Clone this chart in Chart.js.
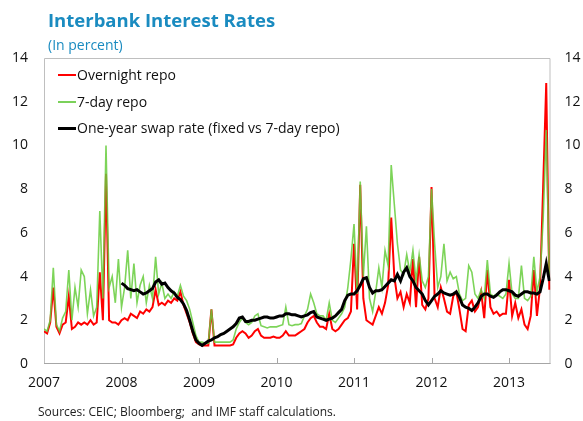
<!DOCTYPE html>
<html>
<head>
<meta charset="utf-8">
<script src="https://cdn.jsdelivr.net/npm/chart.js@4.4.1/dist/chart.umd.min.js"></script>
<style>
  html, body { margin: 0; padding: 0; background: #fff; }
  #wrap { position: relative; width: 583px; height: 421px; overflow: hidden; }
  #c { position: absolute; left: 0; top: 0; }
  .txt { position: absolute; font-family: "Open Sans", sans-serif; white-space: nowrap; }
  #title { left: 48px; top: 10px; font-size: 18.5px; line-height: 19px; font-weight: 700; color: #1A8BC0; }
  #subtitle { left: 48px; top: 38px; font-size: 14px; line-height: 14px; color: #1A8BC0; }
  #source { left: 38px; top: 406px; font-size: 12px; line-height: 12px; color: #222; }
  #legend { position: absolute; left: 58px; top: 64px; font-family: "Open Sans", sans-serif; font-size: 14px; color: #111; }
  .li { height: 26.5px; line-height: 22px; white-space: nowrap; }
  .sw { display: inline-block; width: 18px; vertical-align: middle; margin-right: 1px; position: relative; top: -1px; }
</style>
</head>
<body>
<div id="wrap">
  <canvas id="c" width="583" height="421"></canvas>
  <div id="title" class="txt">Interbank Interest Rates</div>
  <div id="subtitle" class="txt">(In percent)</div>
  <div id="legend"></div>
  <div id="source" class="txt">Sources: CEIC; Bloomberg;&nbsp; and IMF staff calculations.</div>
</div>
<script>
// ---- Data (percent), sampled every 0.04 year starting 2007.00 ----
const startYear = 2007;
const sampleStep = 0.04;

const overnight = [
  1.5, 1.4, 1.9, 3.5, 1.7, 1.4, 1.8, 1.9, 3.1, 1.6,
  1.7, 1.9, 1.8, 1.9, 1.8, 2.0, 1.8, 1.9, 4.2, 2.0,
  8.7, 2.0, 1.9, 1.9, 1.8,
  2.0, 2.1, 2.0, 2.3, 2.2, 2.1, 2.4, 2.3, 2.5, 2.4,
  2.6, 3.4, 2.7, 2.8, 2.7, 2.9, 2.8, 3.0, 2.9, 3.3,
  2.7, 2.3, 1.9, 1.4, 1.0,
  0.9, 0.85, 0.85, 0.85, 2.5, 0.85, 0.85, 0.85, 0.85, 0.85,
  0.85, 0.9, 1.2, 1.4, 1.5, 1.4, 1.2, 1.3, 1.5, 1.6,
  1.3, 1.2, 1.2, 1.2, 1.25,
  1.2, 1.2, 1.3, 1.5, 1.3, 1.3, 1.3, 1.4, 1.5, 1.6,
  1.9, 2.1, 2.2, 1.9, 1.7, 1.7, 1.6, 2.3, 1.6, 1.5,
  1.6, 1.8, 2.0, 2.1, 2.4,
  5.5, 2.5, 8.2, 3.0, 2.0, 1.9, 1.8, 2.2, 2.6, 2.3,
  2.8, 3.6, 6.7, 4.0, 3.0, 3.3, 2.6, 3.2, 2.8, 4.8,
  2.6, 4.9, 2.7, 2.5, 3.0,
  8.1, 3.0, 2.6, 3.5, 3.0, 2.4, 2.3, 3.1, 3.3, 2.5,
  1.6, 1.5, 2.7, 2.9, 2.4, 2.6, 3.3, 2.1, 4.3, 2.6,
  2.3, 2.4, 2.2, 2.3, 2.3,
  3.85, 2.2, 2.8, 2.1, 2.5, 1.8, 1.6, 2.2, 4.3, 2.2,
  3.5, 8.1, 12.85, 3.4
];

const sevenDay = [
  1.6, 1.5, 2.0, 4.4, 1.8, 1.5, 2.1, 2.4, 4.3, 2.0,
  3.5, 2.6, 4.3, 4.0, 2.3, 3.4, 2.2, 2.6, 7.0, 3.0,
  10.0, 3.5, 4.0, 2.8, 4.8,
  2.6, 3.5, 5.2, 3.0, 4.6, 2.8, 3.6, 4.0, 2.8, 3.6,
  3.0, 4.9, 3.2, 3.7, 3.0, 3.2, 3.0, 3.3, 3.1, 3.6,
  3.1, 2.9, 2.5, 1.9, 1.3,
  1.0, 1.0, 0.95, 0.95, 2.5, 1.0, 1.0, 1.0, 1.0, 1.0,
  1.0, 1.1, 1.6, 1.9, 2.1, 1.9, 1.8, 1.9, 2.2, 2.3,
  1.75, 1.7, 1.65, 1.7, 1.7,
  1.7, 1.75, 1.8, 2.6, 1.8, 1.75, 1.8, 1.8, 1.85, 2.2,
  2.5, 3.2, 2.8, 2.3, 2.2, 2.2, 2.0, 2.8, 2.0, 1.9,
  2.1, 2.3, 2.6, 3.5, 4.8,
  6.4, 3.2, 8.35, 4.0, 6.3, 3.0, 2.4, 3.3, 4.4, 3.5,
  5.2, 4.5, 9.1, 7.3, 5.5, 4.3, 4.1, 5.0, 4.2, 5.2,
  3.8, 5.0, 3.8, 3.5, 4.0,
  8.0, 5.5, 3.5, 4.0, 5.5, 3.8, 4.2, 3.9, 4.0, 3.2,
  2.9, 3.0, 4.5, 4.2, 3.2, 3.0, 3.4, 3.0, 4.75, 3.2,
  3.1, 3.2, 3.1, 3.0, 3.2,
  4.6, 3.2, 3.0, 3.0, 4.5, 3.0, 2.9, 3.1, 4.9, 3.3,
  4.0, 6.6, 10.7, 3.8
];

// One-year swap rate, same sampling, starting 2008.00
const swapStartYear = 2008;
const swap = [
  3.7, 3.6, 3.45, 3.4, 3.35, 3.4, 3.3, 3.2, 3.25, 3.35,
  3.45, 3.75, 3.85, 3.65, 3.7, 3.5, 3.35, 3.25, 3.05, 2.95,
  2.75, 2.45, 2.0, 1.5, 1.1,
  0.95, 0.85, 0.95, 1.05, 1.1, 1.2, 1.25, 1.35, 1.4, 1.5,
  1.6, 1.7, 1.85, 2.1, 2.15, 1.95, 1.95, 2.0, 2.0, 2.05,
  2.1, 2.15, 2.15, 2.1, 2.1,
  2.15, 2.2, 2.2, 2.3, 2.3, 2.25, 2.25, 2.2, 2.15, 2.2,
  2.25, 2.35, 2.4, 2.15, 2.1, 2.05, 2.0, 2.05, 2.1, 2.2,
  2.35, 2.5, 2.9, 3.15, 3.2,
  3.2, 3.35, 3.6, 3.9, 3.95, 3.5, 3.25, 3.35, 3.35, 3.4,
  3.55, 3.7, 3.85, 3.8, 4.1, 3.8, 4.2, 4.4, 4.0, 3.8,
  3.5, 3.35, 3.2, 2.9, 2.7,
  2.9, 3.1, 3.2, 3.35, 3.25, 3.2, 3.15, 3.2, 3.3, 3.05,
  2.7, 2.6, 2.55, 2.45, 2.6, 2.8, 3.1, 3.2, 3.2, 3.1,
  3.05, 3.15, 3.3, 3.4, 3.4,
  3.35, 3.3, 3.15, 3.1, 3.2, 3.3, 3.3, 3.25, 3.25, 3.2,
  3.3, 3.9, 4.6, 3.8
];

const yearTicks = [2007, 2008, 2009, 2010, 2011, 2012, 2013];
const yTicks = [0, 2, 4, 6, 8, 10, 12, 14];
const seriesNames = ['Overnight repo', '7-day repo', 'One-year swap rate (fixed vs 7-day repo)'];
const seriesColors = ['#FF0000', 'rgba(102,204,60,0.85)', '#000000'];
const legendColors = ['#FF0000', '#7BD15A', '#000000'];
const legendWidths = [2, 2, 2.5];

// ---- Build points ----
const toPoints = (vals, y0) => vals.map((v, i) => ({ x: +(y0 + i * sampleStep).toFixed(2), y: v }));

const FONT = '"Open Sans", sans-serif';

const framePlugin = {
  id: 'frame',
  beforeDatasetsDraw(chart) {
    const { ctx, chartArea: a, scales } = chart;
    ctx.save();
    ctx.strokeStyle = '#BFBFBF';
    ctx.lineWidth = 1;
    ctx.beginPath();
    ctx.moveTo(a.left + 0.5, a.bottom);
    ctx.lineTo(a.left + 0.5, a.top + 0.5);
    ctx.lineTo(a.right - 0.5, a.top + 0.5);
    ctx.lineTo(a.right - 0.5, a.bottom);
    ctx.stroke();
    ctx.strokeStyle = '#A6A6A6';
    ctx.beginPath();
    ctx.moveTo(a.left, a.bottom - 0.5);
    ctx.lineTo(a.right, a.bottom - 0.5);
    scales.x.ticks.forEach(t => {
      const px = Math.round(scales.x.getPixelForValue(t.value)) + 0.5;
      if (px > a.left + 2 && px < a.right - 2) {
        ctx.moveTo(px, a.bottom);
        ctx.lineTo(px, a.bottom - 6);
      }
    });
    ctx.stroke();
    ctx.restore();
  }
};

const chart = new Chart(document.getElementById('c'), {
  type: 'line',
  data: {
    datasets: [
      {
        label: seriesNames[0],
        data: toPoints(overnight, startYear),
        borderColor: seriesColors[0],
        borderWidth: 2,
        pointRadius: 0,
        tension: 0,
        order: 3
      },
      {
        label: seriesNames[1],
        data: toPoints(sevenDay, startYear),
        borderColor: seriesColors[1],
        borderWidth: 1.6,
        pointRadius: 0,
        tension: 0,
        order: 2
      },
      {
        label: seriesNames[2],
        data: toPoints(swap, swapStartYear),
        borderColor: seriesColors[2],
        borderWidth: 3,
        pointRadius: 0,
        tension: 0,
        order: 1
      }
    ]
  },
  options: {
    responsive: false,
    animation: false,
    devicePixelRatio: 1,
    layout: { padding: { top: 58, left: 0, right: 0, bottom: 0 } },
    plugins: {
      title: { display: false },
      tooltip: { enabled: false },
      legend: { display: false }
    },
    scales: {
      x: {
        type: 'linear',
        min: 2007,
        max: 2013.535,
        afterFit(s) { s.height = 57; },
        afterBuildTicks(s) { s.ticks = yearTicks.map(v => ({ value: v })); },
        ticks: {
          includeBounds: false,
          padding: 11,
          color: '#111',
          font: { family: FONT, size: 14 },
          maxRotation: 0,
          autoSkip: false,
          callback: v => String(v)
        },
        grid: { display: false, drawTicks: false },
        border: { display: false }
      },
      y: {
        position: 'left',
        min: 0,
        max: 14,
        afterFit(s) { s.width = 44; },
        afterBuildTicks(s) { s.ticks = yTicks.map(v => ({ value: v })); },
        ticks: { padding: 16, color: '#111', font: { family: FONT, size: 14 } },
        grid: { display: false, drawTicks: false },
        border: { display: false }
      },
      y2: {
        position: 'right',
        min: 0,
        max: 14,
        afterFit(s) { s.width = 32.5; },
        afterBuildTicks(s) { s.ticks = yTicks.map(v => ({ value: v })); },
        ticks: { padding: 14, color: '#111', font: { family: FONT, size: 14 } },
        grid: { display: false, drawTicks: false },
        border: { display: false }
      }
    }
  },
  plugins: [framePlugin]
});

// ---- Legend (HTML, built from the dataset labels) ----
const legendEl = document.getElementById('legend');
chart.data.datasets.forEach((ds, i) => {
  const row = document.createElement('div');
  row.className = 'li';
  const sw = document.createElement('span');
  sw.className = 'sw';
  sw.style.height = legendWidths[i] + 'px';
  sw.style.background = legendColors[i];
  row.appendChild(sw);
  row.appendChild(document.createTextNode(ds.label));
  legendEl.appendChild(row);
});
</script>
</body>
</html>
